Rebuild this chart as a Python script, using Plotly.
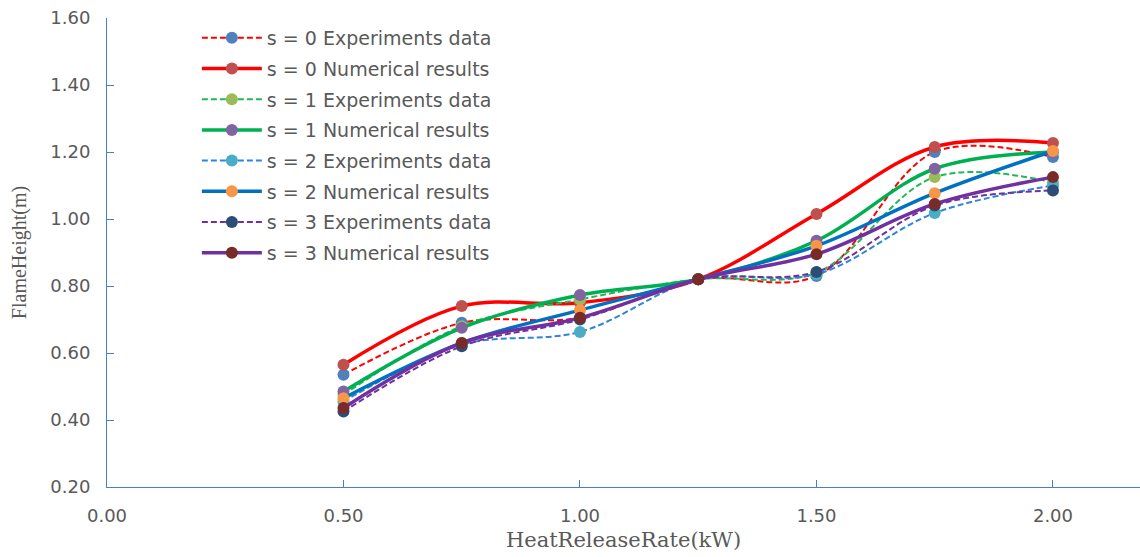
import plotly.graph_objects as go

x_vals = [0.5, 0.75, 1.0, 1.25, 1.5, 1.75, 2.0]

s0_exp = [0.535, 0.69, 0.705, 0.82, 0.83, 1.20, 1.185]
s0_num = [0.565, 0.74, 0.75, 0.82, 1.015, 1.215, 1.227]
s1_exp = [0.475, 0.68, 0.76, 0.82, 0.84, 1.125, 1.11]
s1_num = [0.485, 0.675, 0.773, 0.82, 0.935, 1.15, 1.20]
s2_exp = [0.455, 0.625, 0.663, 0.82, 0.835, 1.018, 1.10]
s2_num = [0.465, 0.63, 0.728, 0.82, 0.92, 1.077, 1.203]
s3_exp = [0.425, 0.62, 0.70, 0.82, 0.842, 1.04, 1.085]
s3_num = [0.436, 0.63, 0.705, 0.82, 0.895, 1.045, 1.125]

names = [
    "s = 0 Experiments data", "s = 0 Numerical results",
    "s = 1 Experiments data", "s = 1 Numerical results",
    "s = 2 Experiments data", "s = 2 Numerical results",
    "s = 3 Experiments data", "s = 3 Numerical results",
]
series = [s0_exp, s0_num, s1_exp, s1_num, s2_exp, s2_num, s3_exp, s3_num]
line_colors = ["#FF0000", "#FF0000", "#22B858", "#00B050",
               "#2E86D6", "#0070C0", "#7030A0", "#7030A0"]
marker_colors = ["#4F81BD", "#C0504D", "#9BBB59", "#8064A2",
                 "#4BACC6", "#F79646", "#2C4D75", "#772C2A"]

fig = go.Figure()
for i, (nm, ys) in enumerate(zip(names, series)):
    dashed = (i % 2 == 0)
    fig.add_trace(go.Scatter(
        x=x_vals, y=ys, name=nm, mode="lines+markers",
        legendgroup=f"g{i}",
        line=dict(color=line_colors[i], width=2 if dashed else 3.5,
                  dash="6px,3px" if dashed else "solid",
                  shape="spline", smoothing=1.0),
        marker=dict(color=marker_colors[i], size=12, line=dict(width=0)),
    ))

axis_blue = "#4A7EC9"
fig.update_layout(
    width=1140, height=557,
    margin=dict(l=107, r=0, t=18, b=70),
    paper_bgcolor="white", plot_bgcolor="white",
    font=dict(family="DejaVu Sans, sans-serif", color="#595959", size=18),
    legend=dict(x=0.087, y=0.998, xanchor="left", yanchor="top",
                bgcolor="rgba(0,0,0,0)", tracegroupgap=3, itemwidth=60,
                font=dict(family="DejaVu Sans, sans-serif", size=19, color="#595959")),
    xaxis=dict(range=[0, 2.184], dtick=0.5, tick0=0, tickformat=".2f",
               showgrid=False, zeroline=False, showline=True,
               linecolor=axis_blue, linewidth=1, ticks="inside",
               tickcolor=axis_blue, ticklen=7, ticklabelstandoff=12,
               title=dict(text="HeatReleaseRate(kW)", standoff=7,
                          font=dict(family="DejaVu Serif, serif", size=21, color="#595959"))),
    yaxis=dict(range=[0.2, 1.6], dtick=0.2, tick0=0.2, tickformat=".2f",
               showgrid=False, zeroline=False, showline=True,
               linecolor=axis_blue, linewidth=1, ticks="inside",
               tickcolor=axis_blue, ticklen=7, ticklabelstandoff=12,
               title=dict(text="FlameHeight(m)", standoff=18,
                          font=dict(family="Liberation Serif, serif", size=20, color="#595959"))),
)

fig.write_html("out.html", post_script="document.body.style.margin='0';",
               config={"displayModeBar": False})
